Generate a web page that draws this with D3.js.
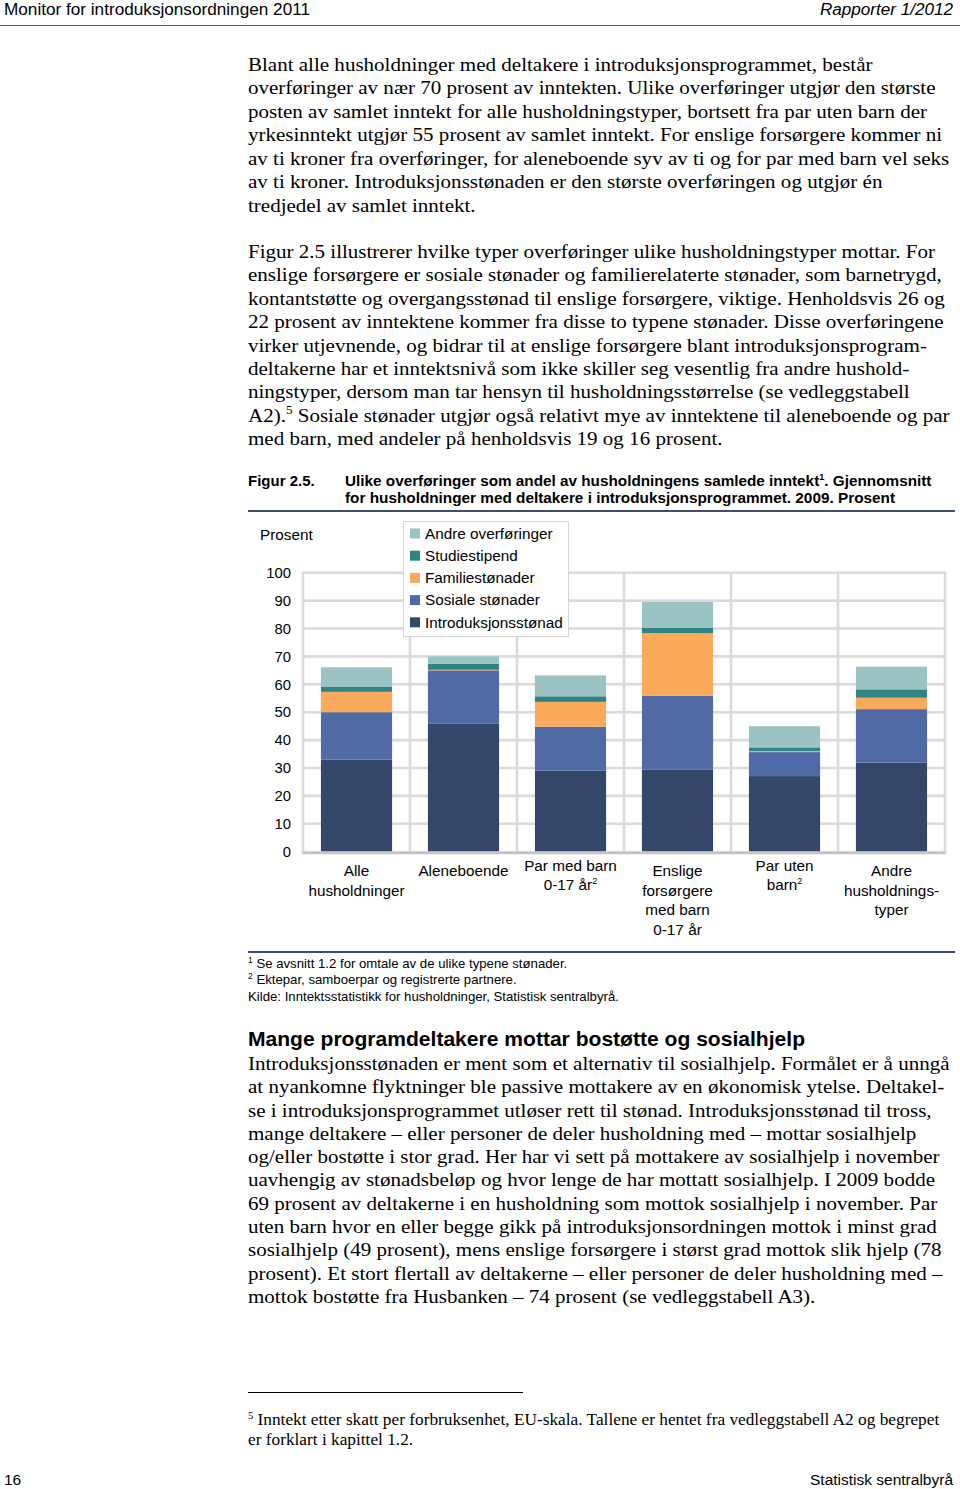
<!DOCTYPE html>
<html>
<head>
<meta charset="utf-8">
<script src="https://cdn.jsdelivr.net/npm/d3@7"></script>
<style>
html,body{margin:0;padding:0;background:#fff;}
svg{display:block;}
</style>
</head>
<body>
<svg id="page" width="960" height="1489"></svg>
<script>
// ---------------- DATA ----------------
const categories = ["Alle husholdninger","Aleneboende","Par med barn 0-17 år","Enslige forsørgere med barn 0-17 år","Par uten barn","Andre husholdningstyper"];
const categoryLabelLines = [
  [["Alle"],["husholdninger"]],
  [["Aleneboende"]],
  [["Par med barn"],["0-17 år","2"]],
  [["Enslige"],["forsørgere"],["med barn"],["0-17 år"]],
  [["Par uten"],["barn","2"]],
  [["Andre"],["husholdnings-"],["typer"]]
];
const seriesNames = ["Introduksjonsstønad","Sosiale stønader","Familiestønader","Studiestipend","Andre overføringer"];
const introduksjonsstonad = [33.0, 46.0, 29.0, 29.5, 27.1, 31.9];
const sosialeStonader     = [17.0, 19.0, 15.8, 26.4,  8.6, 19.2];
const familiestonader     = [ 7.3,  0.2,  8.9, 22.4,  0.4,  4.1];
const studiestipend       = [ 1.9,  2.1,  2.0,  2.0,  1.3,  3.0];
const andreOverforinger   = [ 6.9,  2.7,  7.5,  9.2,  7.6,  8.1];
const yTicks = [0,10,20,30,40,50,60,70,80,90,100];
const yAxisTitle = "Prosent";

// ---------------- TEXTS ----------------
const headerLeft = "Monitor for introduksjonsordningen 2011";
const headerRight = "Rapporter 1/2012";
const para1 = [
 "Blant alle husholdninger med deltakere i introduksjonsprogrammet, består",
 "overføringer av nær 70 prosent av inntekten. Ulike overføringer utgjør den største",
 "posten av samlet inntekt for alle husholdningstyper, bortsett fra par uten barn der",
 "yrkesinntekt utgjør 55 prosent av samlet inntekt. For enslige forsørgere kommer ni",
 "av ti kroner fra overføringer, for aleneboende syv av ti og for par med barn vel seks",
 "av ti kroner. Introduksjonsstønaden er den største overføringen og utgjør én",
 "tredjedel av samlet inntekt."
];
const para2 = [
 "Figur 2.5 illustrerer hvilke typer overføringer ulike husholdningstyper mottar. For",
 "enslige forsørgere er sosiale stønader og familierelaterte stønader, som barnetrygd,",
 "kontantstøtte og overgangsstønad til enslige forsørgere, viktige. Henholdsvis 26 og",
 "22 prosent av inntektene kommer fra disse to typene stønader. Disse overføringene",
 "virker utjevnende, og bidrar til at enslige forsørgere blant introduksjonsprogram-",
 "deltakerne har et inntektsnivå som ikke skiller seg vesentlig fra andre hushold-",
 "ningstyper, dersom man tar hensyn til husholdningsstørrelse (se vedleggstabell",
 ["A2).", "5", " Sosiale stønader utgjør også relativt mye av inntektene til aleneboende og par"],
 "med barn, med andeler på henholdsvis 19 og 16 prosent."
];
const figLabel = "Figur 2.5.";
const figTitle1 = ["Ulike overføringer som andel av husholdningens samlede inntekt", "1", ". Gjennomsnitt"];
const figTitle2 = "for husholdninger med deltakere i introduksjonsprogrammet. 2009. Prosent";
const chartNotes = [
 ["1"," Se avsnitt 1.2 for omtale av de ulike typene stønader."],
 ["2"," Ektepar, samboerpar og registrerte partnere."],
 ["","Kilde: Inntektsstatistikk for husholdninger, Statistisk sentralbyrå."]
];
const sectionHeading = "Mange programdeltakere mottar bostøtte og sosialhjelp";
const para3 = [
 "Introduksjonsstønaden er ment som et alternativ til sosialhjelp. Formålet er å unngå",
 "at nyankomne flyktninger ble passive mottakere av en økonomisk ytelse. Deltakel-",
 "se i introduksjonsprogrammet utløser rett til stønad. Introduksjonsstønad til tross,",
 "mange deltakere – eller personer de deler husholdning med – mottar sosialhjelp",
 "og/eller bostøtte i stor grad. Her har vi sett på mottakere av sosialhjelp i november",
 "uavhengig av stønadsbeløp og hvor lenge de har mottatt sosialhjelp. I 2009 bodde",
 "69 prosent av deltakerne i en husholdning som mottok sosialhjelp i november. Par",
 "uten barn hvor en eller begge gikk på introduksjonsordningen mottok i minst grad",
 "sosialhjelp (49 prosent), mens enslige forsørgere i størst grad mottok slik hjelp (78",
 "prosent). Et stort flertall av deltakerne – eller personer de deler husholdning med –",
 "mottok bostøtte fra Husbanken – 74 prosent (se vedleggstabell A3)."
];
const footnote5 = [
 ["5"," Inntekt etter skatt per forbruksenhet, EU-skala. Tallene er hentet fra vedleggstabell A2 og begrepet"],
 ["","er forklart i kapittel 1.2."]
];
const pageNumber = "16";
const publisher = "Statistisk sentralbyrå";

// ---------------- STYLE ----------------
const SANS = "'Liberation Sans', Arial, sans-serif";
const SERIF = "'Liberation Serif', 'Times New Roman', serif";
const colors = ["#34476b","#4f6aa5","#fba95a","#2e8483","#9bc3c3"];
const svg = d3.select("#page");

function writeLine(g, x, y, content, opts) {
  const t = g.append("text").attr("x", x).attr("y", y)
    .attr("font-family", opts.family).attr("font-size", opts.size)
    .attr("fill", opts.fill || "#000");
  if (typeof content === "string") { t.text(content); return t; }
  content.forEach((part, i) => {
    if (part === "") return;
    const ts = t.append("tspan").text(part);
    if (i % 2 === 1) ts.attr("font-size", opts.size * 0.62).attr("dy", -opts.size * 0.42);
    else if (i > 0) ts.attr("dy", opts.size * 0.42);
  });
  return t;
}
function fitWidth(sel, w) { sel.attr("textLength", w).attr("lengthAdjust", "spacingAndGlyphs"); }
function scaleGroupTo(g, x0, target) {
  const nat = g.select("text").node().getComputedTextLength();
  const s = target / nat;
  g.attr("transform", `translate(${x0*(1-s)},0) scale(${s},1)`);
  return s;
}

// ---------------- HEADER ----------------
const hl = svg.append("text").attr("x",4).attr("y",15).attr("font-family",SANS).attr("font-size",16).text(headerLeft);
fitWidth(hl, 306);
const hr = svg.append("text").attr("x",953).attr("y",15).attr("text-anchor","end").attr("font-family",SANS).attr("font-size",16).attr("font-style","italic").text(headerRight);
fitWidth(hr, 133);
svg.append("line").attr("x1",0).attr("x2",960).attr("y1",25.5).attr("y2",25.5).attr("stroke","#555").attr("stroke-width",1);

// ---------------- BODY PARAGRAPHS ----------------
function paragraph(lines, y0, lh) {
  const g = svg.append("g");
  lines.forEach((ln, i) => {
    writeLine(g, 248, y0 + i*lh, ln, {family: SERIF, size: 19.5});
  });
  return g;
}
const p1 = paragraph(para1, 71, 23.45);
const natural = p1.select("text").node().getComputedTextLength();
const sx = 625 / natural;
const p2 = paragraph(para2, 258, 23.4);
const p3 = paragraph(para3, 1070, 23.3);
[p1,p2,p3].forEach(g => g.attr("transform", `translate(${248*(1-sx)},0) scale(${sx},1)`));

// ---------------- FIGURE CAPTION ----------------
const CAP = 15;
svg.append("text").attr("x",248).attr("y",486).attr("font-family",SANS).attr("font-weight","bold").attr("font-size",CAP).text(figLabel);
const capG = svg.append("g");
const ft1 = capG.append("text").attr("x",345).attr("y",486).attr("font-family",SANS).attr("font-weight","bold").attr("font-size",CAP);
ft1.append("tspan").text(figTitle1[0]);
ft1.append("tspan").text(figTitle1[1]).attr("font-size",9).attr("dy",-6);
ft1.append("tspan").text(figTitle1[2]).attr("dy",6);
scaleGroupTo(capG, 345, 587);
const ft2 = svg.append("text").attr("x",345).attr("y",503).attr("font-family",SANS).attr("font-weight","bold").attr("font-size",CAP).text(figTitle2);
fitWidth(ft2, 550);
svg.append("line").attr("x1",248).attr("x2",955).attr("y1",511).attr("y2",511).attr("stroke","#3f4e6c").attr("stroke-width",2);

// ---------------- CHART ----------------
const FS = 15.3;
const plot = {left:303, right:945, top:572.7, bottom:851.7};
const x = d3.scaleBand().domain(categories).range([plot.left, plot.right]).padding(0);
const y = d3.scaleLinear().domain([0,100]).range([plot.bottom, plot.top]);
const chart = svg.append("g");
const gridColor = "#dadada";

chart.append("g").selectAll("line").data(yTicks.filter(d=>d>0)).join("line")
  .attr("x1",plot.left).attr("x2",plot.right)
  .attr("y1",d=>y(d)).attr("y2",d=>y(d))
  .attr("stroke",gridColor).attr("stroke-width",2.6);
const bounds = categories.map(c=>x(c)).concat([x(categories[categories.length-1]) + x.bandwidth()]);
chart.append("g").selectAll("line").data(bounds).join("line")
  .attr("x1",d=>d).attr("x2",d=>d)
  .attr("y1",plot.top-1.3).attr("y2",plot.bottom)
  .attr("stroke",gridColor).attr("stroke-width",2.6);

const yAxis = d3.axisLeft(y).tickValues(yTicks).tickSize(0).tickPadding(12);
const yg = chart.append("g").attr("transform",`translate(${plot.left},0)`).call(yAxis);
yg.select(".domain").remove();
yg.selectAll("text").attr("font-family",SANS).attr("font-size",14.8).attr("fill","#000");
chart.append("text").attr("x",260).attr("y",540).attr("font-family",SANS).attr("font-size",FS).text(yAxisTitle);

const rows = categories.map((c,i)=>({
  cat:c,
  "Introduksjonsstønad":introduksjonsstonad[i],
  "Sosiale stønader":sosialeStonader[i],
  "Familiestønader":familiestonader[i],
  "Studiestipend":studiestipend[i],
  "Andre overføringer":andreOverforinger[i]
}));
const stack = d3.stack().keys(seriesNames)(rows);
const barW = x.bandwidth()*0.665;
chart.append("g").selectAll("g").data(stack).join("g")
  .attr("fill",(d,i)=>colors[i])
  .selectAll("rect").data(d=>d).join("rect")
  .attr("x",d=>x(d.data.cat) + (x.bandwidth()-barW)/2)
  .attr("width",barW)
  .attr("y",d=>y(d[1]))
  .attr("height",d=>y(d[0])-y(d[1]));

chart.append("line").attr("x1",plot.left-1.3).attr("x2",plot.right+1.3)
  .attr("y1",plot.bottom+1).attr("y2",plot.bottom+1)
  .attr("stroke","#c4c4c4").attr("stroke-width",3);

categories.forEach((c,i)=>{
  const lines = categoryLabelLines[i];
  const hasSup = lines.some(l=>l.length>1);
  const y0 = hasSup ? 871 : 876;
  const lh = hasSup ? 18.5 : 19.6;
  lines.forEach((l,j)=>{
    const t = chart.append("text").attr("x",x(c)+x.bandwidth()/2).attr("y",y0+j*lh)
      .attr("text-anchor","middle").attr("font-family",SANS).attr("font-size",FS);
    t.append("tspan").text(l[0]);
    if (l.length>1) t.append("tspan").text(l[1]).attr("font-size",9).attr("dy",-6);
  });
});

const leg = chart.append("g");
leg.append("rect").attr("x",403.5).attr("y",521.5).attr("width",165).attr("height",115)
  .attr("fill","#fff").attr("stroke","#d6d6d6").attr("stroke-width",1);
const legOrder = seriesNames.map((n,i)=>({n,i})).reverse();
legOrder.forEach((d,k)=>{
  const cy = 533.5 + k*22.2;
  leg.append("rect").attr("x",410).attr("y",cy-5).attr("width",10).attr("height",10).attr("fill",colors[d.i]);
  leg.append("text").attr("x",425).attr("y",cy+5.3).attr("font-family",SANS).attr("font-size",FS).text(d.n);
});

// chart notes
svg.append("line").attr("x1",248).attr("x2",955).attr("y1",952).attr("y2",952).attr("stroke","#3f4e6c").attr("stroke-width",2);
chartNotes.forEach((n,i)=>{
  const t = svg.append("text").attr("x",248).attr("y",967.5+i*16.8).attr("font-family",SANS).attr("font-size",13.2);
  if (n[0]) t.append("tspan").text(n[0]).attr("font-size",8.5).attr("dy",-5);
  const ts = t.append("tspan").text(n[1]);
  if (n[0]) ts.attr("dy",5);
});

// section heading
const sh = svg.append("text").attr("x",248).attr("y",1046).attr("font-family",SANS).attr("font-weight","bold").attr("font-size",21).text(sectionHeading);
fitWidth(sh, 557);

// footnote
svg.append("line").attr("x1",248).attr("x2",523).attr("y1",1392.5).attr("y2",1392.5).attr("stroke","#000").attr("stroke-width",1);
const fnG = svg.append("g");
footnote5.forEach((n,i)=>{
  const t = fnG.append("text").attr("x",248).attr("y",1425+i*20).attr("font-family",SERIF).attr("font-size",16.5);
  if (n[0]) t.append("tspan").text(n[0]).attr("font-size",10).attr("dy",-6);
  const ts = t.append("tspan").text(n[1]);
  if (n[0]) ts.attr("dy",6);
});
scaleGroupTo(fnG, 248, 692);

// footer
svg.append("text").attr("x",4).attr("y",1485).attr("font-family",SANS).attr("font-size",15.5).text(pageNumber);
svg.append("text").attr("x",953).attr("y",1485).attr("text-anchor","end").attr("font-family",SANS).attr("font-size",15.5).text(publisher);
</script>
</body>
</html>
